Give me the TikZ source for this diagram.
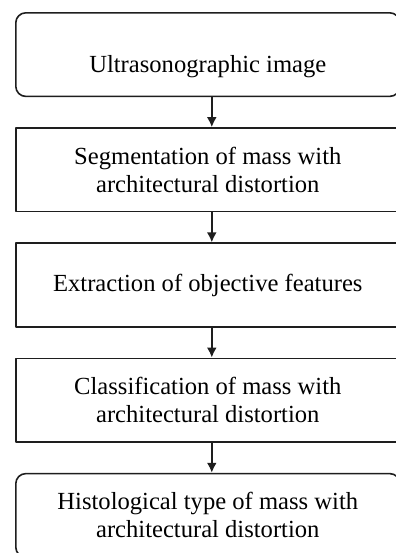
\documentclass[tikz,border=0pt]{standalone}
\usepackage{fontspec}
\setmainfont{Liberation Serif}
\usepackage{tikz}
\usetikzlibrary{arrows.meta,positioning}
\definecolor{ink}{HTML}{1E1E1E}
\tikzset{
  flow chart/.style={
    font=\fontsize{12.3}{14}\selectfont,
    >={Latex[length=5pt,width=5pt]},
    line join=round
  },
  stepbox/.style={
    draw=ink,
    line width=0.8pt,
    align=center,
    fill=white,
    minimum width=192pt,
    minimum height=41.8pt,
    inner sep=2pt
  },
  endbox/.style={
    stepbox,
    rounded corners=5pt
  },
  flowarrow/.style={
    ->,
    draw=ink,
    line width=1pt
  }
}
\begin{document}
\begin{tikzpicture}[flow chart, node distance=15pt]
\useasboundingbox (0,0) rectangle (198pt,-276.5pt);
\node[endbox, anchor=north west, text height=20pt, text depth=2.5pt] (image) at (7.5pt,-6pt) {Ultrasonographic image};
\node[stepbox, below=of image] (segment) {Segmentation of mass with\\architectural distortion};
\node[stepbox, below=of segment] (extract) {Extraction of objective features};
\node[stepbox, below=of extract] (classify) {Classification of mass with\\architectural distortion};
\node[endbox, below=of classify] (histo) {Histological type of mass with\\architectural distortion};

\draw[flowarrow] ([xshift=2pt]image.south) -- ([xshift=2pt]segment.north);
\draw[flowarrow] ([xshift=2pt]segment.south) -- ([xshift=2pt]extract.north);
\draw[flowarrow] ([xshift=2pt]extract.south) -- ([xshift=2pt]classify.north);
\draw[flowarrow] ([xshift=2pt]classify.south) -- ([xshift=2pt]histo.north);
\end{tikzpicture}
\end{document}
